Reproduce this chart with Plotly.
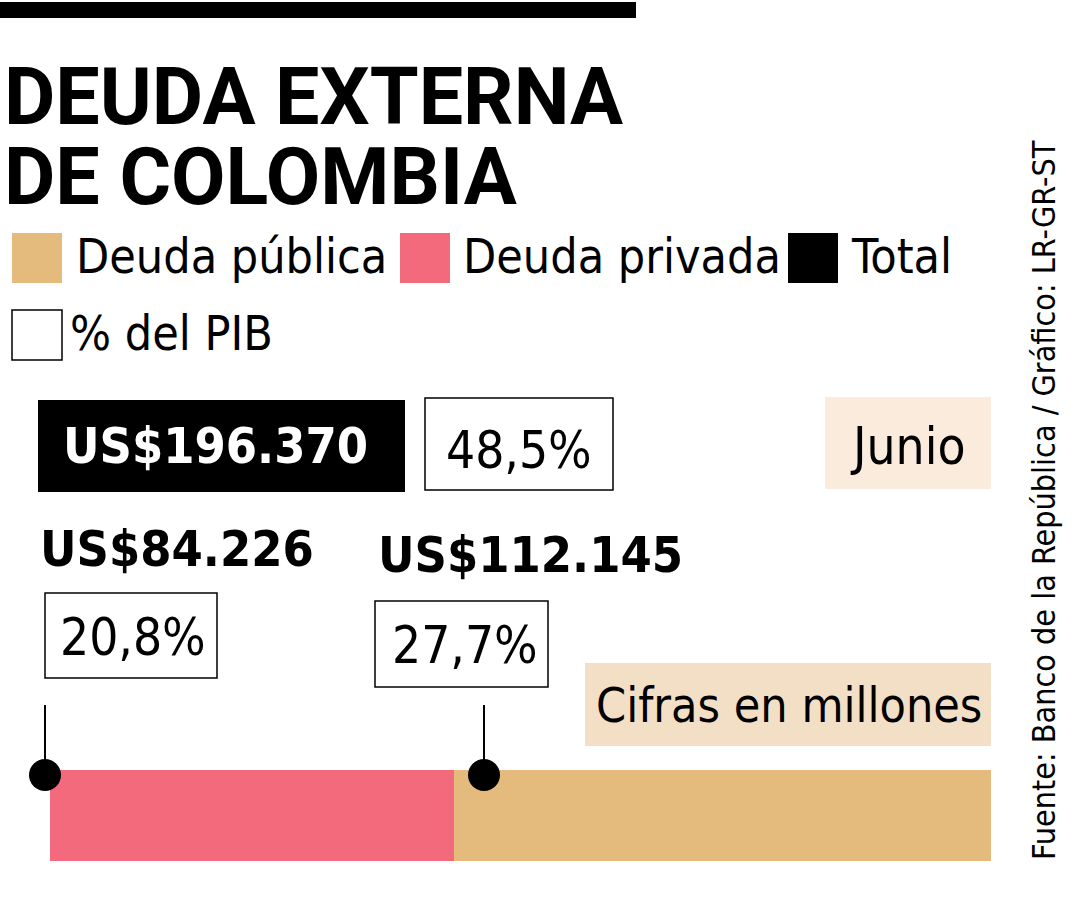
import plotly.graph_objects as go

# ---- data ----
categories = ["Deuda privada", "Deuda pública"]
values = [84226, 112145]          # US$ millones, junio
pct_pib = [20.8, 27.7]            # % del PIB
total_value = 196370
total_pct = 48.5
legend_labels = ["Deuda pública", "Deuda privada", "Total", "% del PIB"]
title_lines = ["DEUDA EXTERNA", "DE COLOMBIA"]
period = "Junio"
units = "Cifras en millones"
source = "Fuente: Banco de la República / Gráfico: LR-GR-ST"

# ---- styles ----
W, H = 1080, 900
TAN = "#E4BB7D"
PINK = "#F26A7B"
BEIGE1 = "#FAEBDC"
BEIGE2 = "#F3DEC6"
COND = "DejaVu Sans Condensed, sans-serif"
TITLE_FONT = "Roboto, Liberation Sans, sans-serif"


def px(x):
    return x / W


def py(y):
    return 1 - y / H


def money(v):
    return "US$" + f"{v:,}".replace(",", ".")


def pct(v):
    return f"{v:.1f}%".replace(".", ",")


fig = go.Figure()
colors = {"Deuda privada": PINK, "Deuda pública": TAN}
for cat, val in zip(categories, values):
    fig.add_trace(go.Bar(
        y=["Deuda"], x=[val], orientation="h", name=cat,
        marker=dict(color=colors[cat], line=dict(width=0)),
        hoverinfo="skip", showlegend=False,
    ))

shapes = []
annotations = []


def rect(x0, y0, x1, y1, fill, line=None, lw=0):
    shapes.append(dict(type="rect", xref="paper", yref="paper",
                       x0=px(x0), x1=px(x1), y0=py(y1), y1=py(y0),
                       fillcolor=fill, line=dict(color=line or fill, width=lw),
                       layer="below"))


def text(s, x, y, size, color="black", family=COND, xanchor="left", bold=False, angle=0):
    if bold:
        s = "<b>" + s + "</b>"
    annotations.append(dict(text=s, x=px(x), y=py(y), xref="paper", yref="paper",
                            xanchor=xanchor, yanchor="middle", showarrow=False,
                            textangle=angle,
                            font=dict(size=size, color=color, family=family)))


LEG = 48
PCT = 51
BIG = 50

# top rule
rect(0, 2, 636, 18, "black")

# title
text(title_lines[0], 2, 97, 79, family=TITLE_FONT, bold=True)
text(title_lines[1], 2, 177, 79, family=TITLE_FONT, bold=True)

# legend
rect(12, 233, 62, 283, TAN)
text(legend_labels[0], 74, 256, LEG)
rect(400, 233, 450, 283, PINK)
text(legend_labels[1], 461, 256, LEG)
rect(788, 233, 838, 283, "black")
text(legend_labels[2], 849, 256, LEG)
rect(12, 310, 62, 360, "white", line="black", lw=1.5)
text(legend_labels[3], 68, 333, LEG)

# total
rect(38, 400, 405, 492, "black")
text(money(total_value), 215, 446, BIG, color="white", xanchor="center", bold=True)
rect(425, 398, 613, 490, "white", line="black", lw=1.5)
text(pct(total_pct), 519, 450, PCT, xanchor="center")

rect(825, 397, 991, 489, BEIGE1)
text(period, 968, 447, PCT, xanchor="right")

# components
text(money(values[0]), 38, 549, BIG, bold=True)
rect(45, 593, 217, 678, "white", line="black", lw=1.5)
text(pct(pct_pib[0]), 133, 637, PCT, xanchor="center")

text(money(values[1]), 376, 555, BIG, bold=True)
rect(375, 601, 548, 687, "white", line="black", lw=1.5)
text(pct(pct_pib[1]), 465, 645, PCT, xanchor="center")

rect(585, 663, 991, 746, BEIGE2)
text(units, 789, 705, LEG, xanchor="center")

# leader lines and dots
for xx in (45, 484):
    shapes.append(dict(type="line", xref="paper", yref="paper",
                       x0=px(xx), x1=px(xx), y0=py(705), y1=py(775),
                       line=dict(color="black", width=2), layer="above"))
    shapes.append(dict(type="circle", xref="paper", yref="paper",
                       x0=px(xx - 16), x1=px(xx + 16), y0=py(791), y1=py(759),
                       fillcolor="black", line=dict(color="black", width=0), layer="above"))

# source
text(source, 1044, 500, 32, angle=-90, xanchor="center")

fig.update_layout(
    width=W, height=H,
    margin=dict(l=0, r=0, t=0, b=0),
    paper_bgcolor="white", plot_bgcolor="white",
    barmode="stack", bargap=0,
    xaxis=dict(domain=[px(50), px(991)], range=[0, total_value], visible=False, fixedrange=True),
    yaxis=dict(domain=[py(861), py(770)], range=[-0.5, 0.5], visible=False, fixedrange=True),
    shapes=shapes, annotations=annotations,
    showlegend=False,
)

fig.write_html("out.html", config={"displayModeBar": False},
               post_script="document.body.style.margin='0';document.body.style.overflow='hidden';")
